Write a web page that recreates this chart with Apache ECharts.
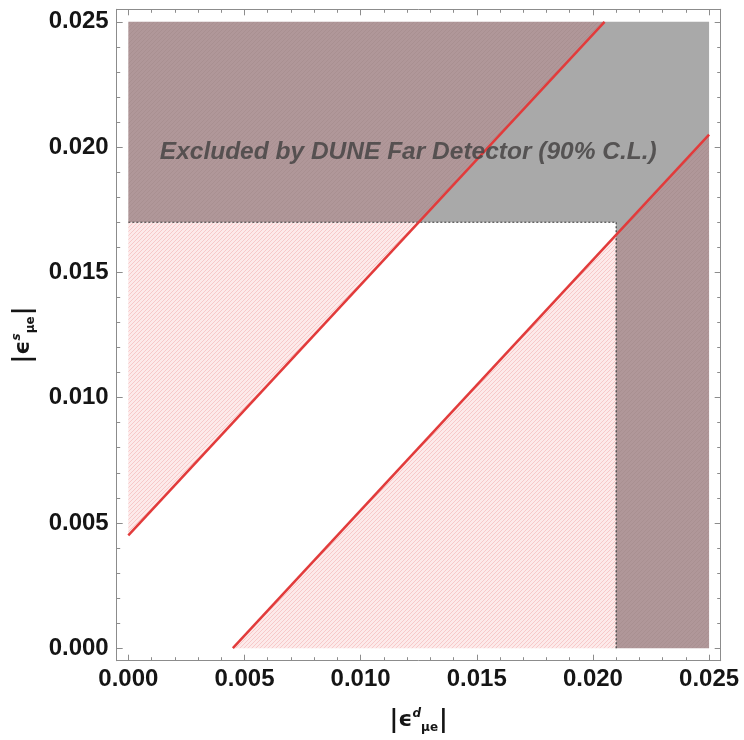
<!DOCTYPE html>
<html>
<head>
<meta charset="utf-8">
<script src="https://cdn.jsdelivr.net/npm/echarts@6/dist/echarts.min.js"></script>
<style>
html, body { margin: 0; padding: 0; background: #fff; }
#chart { width: 744px; height: 740px; }
</style>
</head>
<body>
<div id="chart"></div>
<script>
// Frame range (data range 0..0.025 plus a small padding)
const frameMin = -0.0005;
const frameMax = 0.0255;
const dataMax = 0.025;

// Tick positions (both axes)
const majorTicks = [0, 0.005, 0.010, 0.015, 0.020, 0.025];
const minorTicks = [0.001, 0.002, 0.003, 0.004, 0.006, 0.007, 0.008, 0.009,
                    0.011, 0.012, 0.013, 0.014, 0.016, 0.017, 0.018, 0.019,
                    0.021, 0.022, 0.023, 0.024];

// Allowed band: |eps_d - eps_s| < bandHalfWidth
const bandHalfWidth = 0.0045;
// DUNE Far Detector 90% C.L. limits
const limitS = 0.017;   // on |eps^s_mue|
const limitD = 0.021;   // on |eps^d_mue|

// Band edges (red lines)
const upperEdge = [[0, 0.0045], [0.0205, 0.025]];
const lowerEdge = [[0.0045, 0], [0.025, 0.0205]];

// Dotted limit lines
const limitSLine = [[0, 0.017], [0.021, 0.017]];
const limitDLine = [[0.021, 0], [0.021, 0.017]];

// Annotation
const noteText = 'Excluded by DUNE Far Detector (90% C.L.)';
const notePos = [0.01205, 0.0198];

// Regions built from the boundaries above
const a = bandHalfWidth, M = dataMax;
const pinkRegions = [
  [[0, a], [limitS - a, limitS], [0, limitS]],
  [[a, 0], [limitD, 0], [limitD, limitD - a]]
];
const mauveRegions = [
  [[0, limitS], [limitS - a, limitS], [M - a, M], [0, M]],
  [[limitD, 0], [M, 0], [M, M - a], [limitD, limitD - a]]
];
const grayRegions = [
  [[limitS - a, limitS], [limitD, limitS], [limitD, limitD - a], [M, M - a], [M, M], [M - a, M]]
];

function hatch(bg, line) {
  const s = 4;
  const c = document.createElement('canvas');
  c.width = s; c.height = s;
  const g = c.getContext('2d');
  g.fillStyle = bg;
  g.fillRect(0, 0, s, s);
  g.strokeStyle = line;
  g.lineWidth = 0.7;
  g.beginPath();
  g.moveTo(-1, s + 1); g.lineTo(s + 1, -1);
  g.moveTo(-1, 1); g.lineTo(1, -1);
  g.moveTo(s - 1, s + 1); g.lineTo(s + 1, s - 1);
  g.stroke();
  return c;
}

const pinkFill = { image: hatch('#fdeaea', 'rgba(235,120,120,0.42)'), repeat: 'repeat' };
const mauveFill = { image: hatch('#b09799', 'rgba(140,110,112,0.25)'), repeat: 'repeat' };
const grayFill = '#a9a9a9';

function regionSeries(regions, fill) {
  return {
    type: 'custom',
    coordinateSystem: 'cartesian2d',
    silent: true,
    data: regions.map((r, i) => [r[0][0], r[0][1], i]),
    renderItem: function (params, api) {
      const poly = regions[api.value(2)];
      return {
        type: 'polygon',
        shape: { points: poly.map(p => api.coord(p)) },
        style: { fill: fill, stroke: null }
      };
    },
    z: 1
  };
}

const frameColor = '#8c8c8c';
const labelStyle = {
  fontFamily: 'Liberation Sans, Arial, sans-serif',
  fontWeight: 'bold',
  fontSize: 24,
  color: '#151515'
};

function nameRich() {
  return {
    bar: { fontFamily: 'DejaVu Sans', fontSize: 24, fontWeight: 'bold', color: '#151515' },
    eps: { fontFamily: 'DejaVu Sans', fontSize: 22, fontWeight: 'bold', color: '#151515' },
    sup: { fontFamily: 'DejaVu Sans', fontSize: 12, fontWeight: 'bold', fontStyle: 'italic', color: '#151515', verticalAlign: 'top', padding: [0, 0, 14, 0] },
    sub: { fontFamily: 'DejaVu Sans', fontSize: 12, fontWeight: 'bold', color: '#151515', verticalAlign: 'bottom', padding: [12, 1, 0, 0] }
  };
}

// One axis carrying either the major ticks (with frame line) or the minor ticks
function makeAxis(pos, major, extra) {
  return Object.assign({
    type: 'value',
    min: frameMin,
    max: frameMax,
    position: pos,
    axisLine: { show: major, onZero: false, lineStyle: { color: frameColor, width: 1 } },
    axisTick: {
      show: true, inside: true, length: major ? 6 : 3.5,
      customValues: major ? majorTicks : minorTicks,
      lineStyle: { color: frameColor, width: 1 }
    },
    splitLine: { show: false },
    axisLabel: { show: false }
  }, extra || {});
}

const chart = echarts.init(document.getElementById('chart'), null, { renderer: 'canvas' });

chart.setOption({
  animation: false,
  backgroundColor: '#ffffff',
  grid: { left: 116.7, right: 23.3, top: 9.3, bottom: 79.3, containLabel: false, outerBoundsMode: 'none' },
  xAxis: [
    makeAxis('bottom', true, {
      axisLabel: Object.assign({ show: true, margin: 7, customValues: majorTicks, formatter: v => v.toFixed(3) }, labelStyle),
      name: '{bar||}{eps|ϵ}{sup|d}{sub|μe}{bar||}',
      nameLocation: 'middle',
      nameGap: 47,
      nameTextStyle: { rich: nameRich() }
    }),
    makeAxis('bottom', false),
    makeAxis('top', true),
    makeAxis('top', false)
  ],
  yAxis: [
    makeAxis('left', true, {
      axisLabel: Object.assign({ show: true, margin: 8, customValues: majorTicks, formatter: v => v.toFixed(3) }, labelStyle),
      name: '{bar||}{eps|ϵ}{sup|s}{sub|μe}{bar||}',
      nameLocation: 'middle',
      nameGap: 80,
      nameTextStyle: { rich: nameRich() }
    }),
    makeAxis('left', false),
    makeAxis('right', true),
    makeAxis('right', false)
  ],
  series: [
    regionSeries(pinkRegions, pinkFill),
    regionSeries(mauveRegions, mauveFill),
    regionSeries(grayRegions, grayFill),
    {
      type: 'line', data: limitSLine, symbol: 'none', silent: true, z: 3,
      lineStyle: { color: '#3a3a3a', width: 1.2, type: [2, 2] }
    },
    {
      type: 'line', data: limitDLine, symbol: 'none', silent: true, z: 3,
      lineStyle: { color: '#3a3a3a', width: 1.2, type: [2, 2] }
    },
    {
      type: 'line', data: upperEdge, symbol: 'none', silent: true, z: 4,
      lineStyle: { color: '#e23b3b', width: 2.5 }
    },
    {
      type: 'line', data: lowerEdge, symbol: 'none', silent: true, z: 4,
      lineStyle: { color: '#e23b3b', width: 2.5 }
    },
    {
      type: 'custom',
      coordinateSystem: 'cartesian2d',
      silent: true,
      z: 5,
      data: [notePos],
      renderItem: function (params, api) {
        const p = api.coord([api.value(0), api.value(1)]);
        return {
          type: 'text',
          x: p[0], y: p[1],
          style: {
            text: noteText,
            font: 'italic bold 24.5px "Liberation Sans", Arial, sans-serif',
            fill: 'rgba(70,68,68,0.85)',
            align: 'center',
            verticalAlign: 'middle'
          }
        };
      }
    }
  ]
});
</script>
</body>
</html>
